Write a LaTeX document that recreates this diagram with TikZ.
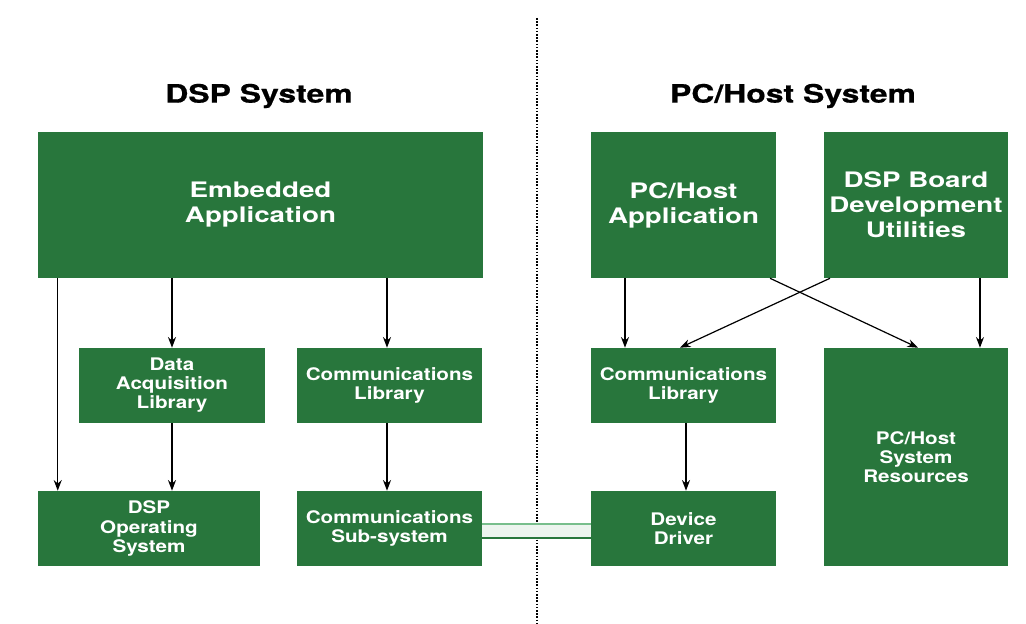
\documentclass[tikz,border=0pt]{standalone}
\usepackage{fontspec}
\setmainfont{TeX Gyre Heros}
\newfontfamily\bigboxfont[FakeStretch=1.3]{TeX Gyre Heros}
\newfontfamily\smallboxfont[FakeStretch=1.19]{TeX Gyre Heros}
\newfontfamily\titlefont[FakeStretch=1.26,FakeBold=0.6]{TeX Gyre Heros}
\usetikzlibrary{arrows.meta}
\definecolor{boxgreen}{RGB}{40,118,60}
\definecolor{pipelight}{RGB}{120,190,140}
\definecolor{pipefill}{RGB}{236,244,238}
\tikzset{
  gbox/.style={draw=none, fill=boxgreen, text=white, align=center, inner sep=0pt},
  bigtext/.style={font=\bigboxfont\bfseries\fontsize{16}{18.8}\selectfont},
  smalltext/.style={font=\smallboxfont\bfseries\fontsize{13}{14.3}\selectfont},
  title/.style={font=\titlefont\bfseries\fontsize{19}{22}\selectfont, text=black},
  arr/.style={-{Stealth[length=8pt,width=6pt]}, line width=0.9pt, black},
}
\begin{document}
\begin{tikzpicture}[x=0.75pt,y=-0.75pt]
\useasboundingbox (0,0) rectangle (1026,624);
% divider
\draw[line width=1.6pt, dash pattern=on 1.2pt off 1.2pt] (537,18) -- (537,624);
% titles
\node[title] (t1) at (259,96) {DSP System};
\node[title] (t2) at (793,96) {PC/Host System};
% boxes
\node[gbox, bigtext, minimum width=445*0.75pt, minimum height=146*0.75pt] (emb) at (260.5,205) {Embedded\\Application};
\node[gbox, bigtext, minimum width=185*0.75pt, minimum height=146*0.75pt] (pca) at (683.5,205) {PC/Host\\Application};
\node[gbox, bigtext, minimum width=184*0.75pt, minimum height=146*0.75pt] (util) at (916,205) {DSP Board\\Development\\Utilities};
\node[gbox, smalltext, minimum width=186*0.75pt, minimum height=75*0.75pt] (daq) at (172,385.5) {Data\\Acquisition\\Library};
\node[gbox, smalltext, minimum width=185*0.75pt, minimum height=75*0.75pt] (cl1) at (389.5,385.5) {Communications\\Library};
\node[gbox, smalltext, minimum width=222*0.75pt, minimum height=75*0.75pt] (os) at (149,528.5) {DSP\\Operating\\System};
\node[gbox, smalltext, minimum width=185*0.75pt, minimum height=75*0.75pt] (css) at (389.5,528.5) {Communications\\Sub-system};
\node[gbox, smalltext, minimum width=185*0.75pt, minimum height=75*0.75pt] (cl2) at (683.5,385.5) {Communications\\Library};
\node[gbox, smalltext, minimum width=185*0.75pt, minimum height=75*0.75pt] (dd) at (683.5,528.5) {Device\\Driver};
\node[gbox, smalltext, minimum width=184*0.75pt, minimum height=218*0.75pt] (res) at (916,457) {PC/Host\\System\\Resources};
% pipe
\fill[pipefill] (css.east |- 0,524) rectangle (dd.west |- 0,538);
\draw[pipelight, line width=1.4pt] (css.east |- 0,524) -- (dd.west |- 0,524);
\draw[boxgreen, line width=1.4pt] (css.east |- 0,538) -- (dd.west |- 0,538);
% arrows
\draw[arr] (emb.south -| os.west) ++(20,0) coordinate (a1) -- (a1 |- os.north);
\draw[arr] (emb.south -| daq) -- (daq.north);
\draw[arr] (emb.south -| 387,0) -- (cl1.north -| 387,0);
\draw[arr] (daq.south) -- (os.north -| daq);
\draw[arr] (cl1.south -| 387,0) -- (css.north -| 387,0);
\draw[arr] (pca.south -| 625,0) -- (cl2.north -| 625,0);
\draw[arr] (pca.south -| 770,0) -- (res.north -| 918,0);
\draw[arr] (util.south -| 830,0) -- (cl2.north -| 680,0);
\draw[arr] (util.south -| 980,0) -- (res.north -| 980,0);
\draw[arr] (cl2.south -| 686,0) -- (dd.north -| 686,0);
\end{tikzpicture}
\end{document}
